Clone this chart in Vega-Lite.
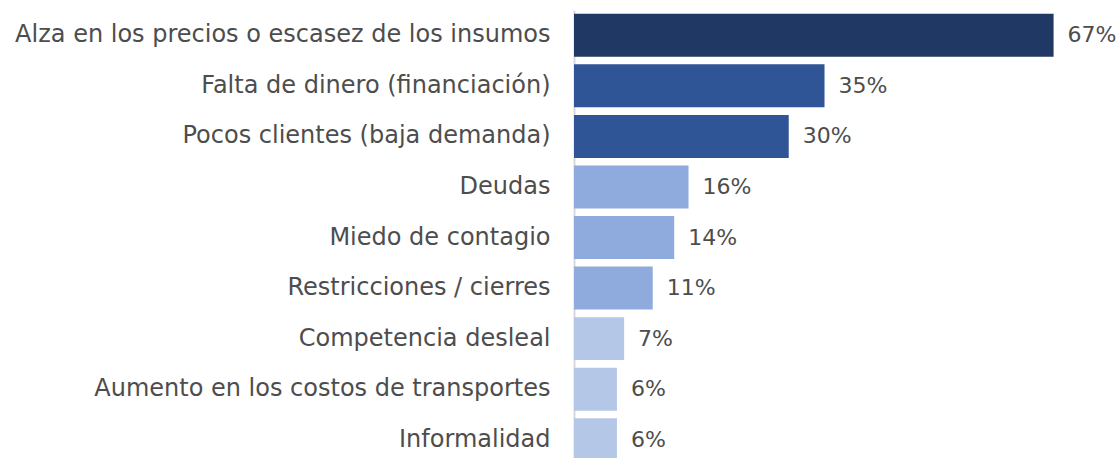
{
  "$schema": "https://vega.github.io/schema/vega-lite/v6.json",
  "autosize": "none",
  "padding": {"left": 574, "top": 10, "right": 0, "bottom": 0},
  "width": 544,
  "height": 455,
  "background": "white",
  "config": {"view": {"stroke": null}, "font": "DejaVu Sans"},
  "data": {
    "values": [
      {"causa": "Alza en los precios o escasez de los insumos", "valor": 0.67},
      {"causa": "Falta de dinero (financiación)", "valor": 0.35},
      {"causa": "Pocos clientes (baja demanda)", "valor": 0.30},
      {"causa": "Deudas", "valor": 0.16},
      {"causa": "Miedo de contagio", "valor": 0.14},
      {"causa": "Restricciones / cierres", "valor": 0.11},
      {"causa": "Competencia desleal", "valor": 0.07},
      {"causa": "Aumento en los costos de transportes", "valor": 0.06},
      {"causa": "Informalidad", "valor": 0.06}
    ]
  },
  "encoding": {
    "y": {
      "field": "causa",
      "type": "nominal",
      "sort": null,
      "scale": {"paddingInner": 0.15, "paddingOuter": 0.075},
      "axis": {
        "title": null,
        "ticks": false,
        "labelPadding": 24,
        "labelFontSize": 24,
        "labelColor": "#4D4D4D",
        "labelFont": "DejaVu Sans",
        "labelFontWeight": "normal",
        "labelLimit": 600,
        "domainColor": "#D9D9D9",
        "domainWidth": 2,
        "grid": false
      }
    },
    "x": {
      "field": "valor",
      "type": "quantitative",
      "scale": {"domain": [0, 0.76]},
      "axis": null
    }
  },
  "layer": [
    {
      "mark": {"type": "bar"},
      "encoding": {
        "color": {
          "field": "valor",
          "type": "quantitative",
          "scale": {"type": "threshold", "domain": [0.1, 0.2, 0.5], "range": ["#B4C7E7", "#8FAADC", "#2F5597", "#203864"]},
          "legend": null
        }
      }
    },
    {
      "mark": {"type": "text", "align": "left", "baseline": "middle", "dx": 14, "fontSize": 22, "color": "#4D4D4D", "font": "DejaVu Sans"},
      "encoding": {
        "text": {"field": "valor", "type": "quantitative", "format": ".0%"}
      }
    }
  ]
}
